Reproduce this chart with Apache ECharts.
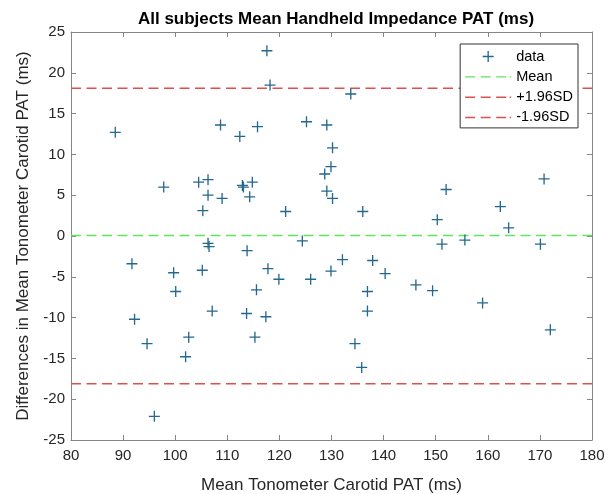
<!DOCTYPE html>
<html><head><meta charset="utf-8">
<script src="https://cdn.jsdelivr.net/npm/echarts@6/dist/echarts.min.js"></script>
<style>html,body{margin:0;padding:0;background:#fff}#c{width:614px;height:494px}</style>
</head><body><div id="c"></div>
<script>
const meanX = [88.5,97.8,104.5,106.3,105.3,106.3,109.0,108.7,112.4,115.8,112.9,113.1,114.8,114.3,117.6,118.2,121.2,125.2,129.1,128.7,129.1,130.2,129.9,130.2,133.7,136.0,150.3,152.0,162.4,164.0,170.8,
  106.3,106.5,91.7,92.2,94.6,96.0,99.7,100.1,102.6,102.0,105.2,107.1,113.8,113.7,115.3,115.6,117.8,117.4,119.9,124.4,126.0,129.9,132.1,137.9,140.3,136.9,136.9,134.5,135.8,146.2,149.4,151.2,155.6,159.0,170.1,172.0];
const diffY = [12.7,6.0,6.6,6.9,3.1,5.0,4.6,13.6,12.2,13.4,6.2,6.0,6.6,4.8,22.7,18.5,3.0,14.0,13.6,7.6,5.5,10.8,8.5,4.6,17.4,3.0,2.0,5.7,3.6,1.0,7.0,
  -0.9,-1.3,-3.4,-10.2,-13.2,-22.1,-4.5,-6.8,-12.4,-14.8,-4.2,-9.2,-1.8,-9.5,-12.4,-6.6,-4.0,-9.9,-5.3,-0.6,-5.3,-4.3,-2.9,-3.0,-4.6,-6.8,-9.2,-13.2,-16.1,-6.0,-6.7,-1.0,-0.5,-8.2,-1.0,-11.5];
const meanDiff = 0.05;
const upperSD = 18.1;
const lowerSD = -18.1;
const xRange = [80, 180];
const yRange = [-25, 25];
const legendNames = ['data','Mean','+1.96SD','-1.96SD'];

const axisColor = '#858585';
const textColor = '#262626';
const font = 'Liberation Sans, Arial, Helvetica, sans-serif';
const plus = 'path://M4.4,0H5.6V4.4H10V5.6H5.6V10H4.4V5.6H0V4.4H4.4Z';
const dashIcon = 'path://M0,0M46,11M0,4.9h10v1.4H0zM15.5,4.9h10v1.4H15.5zM31,4.9h10v1.4H31zM44.5,4.9h1.5v1.4H44.5z';
const green = '#5ee65e', red = '#dc5050', blue = '#24678f';

const chart = echarts.init(document.getElementById('c'), null, {renderer:'canvas'});
function ax(extra){
  return Object.assign({
    type:'value',
    axisLine:{show:true,onZero:false,lineStyle:{color:axisColor,width:1}},
    axisTick:{show:true,inside:true,length:5,lineStyle:{color:axisColor}},
    splitLine:{show:false},
    axisLabel:{color:textColor,fontSize:15,fontFamily:font},
  }, extra);
}
chart.setOption({
  animation:false,
  title:{text:'All subjects Mean Handheld Impedance PAT (ms)',left:331,textAlign:'center',top:6,
    textStyle:{fontSize:17,fontWeight:'bold',color:'#000',fontFamily:font}},
  grid:{left:71,right:22,top:32,bottom:54,outerBoundsMode:'none',containLabel:false},
  legend:{
    orient:'vertical',right:36,top:44,
    backgroundColor:'#fff',borderColor:'#333',borderWidth:1,borderRadius:0,padding:[5,5,3,5],
    itemWidth:46,itemHeight:11,itemGap:5.3,
    textStyle:{fontSize:14.5,color:'#000',fontFamily:font},
    data:[
      {name:legendNames[0]},
      {name:legendNames[1],icon:dashIcon},
      {name:legendNames[2],icon:dashIcon},
      {name:legendNames[3],icon:dashIcon}
    ]
  },
  xAxis:[
    ax({min:xRange[0],max:xRange[1],interval:10,position:'bottom',
      name:'Mean Tonometer Carotid PAT (ms)',nameLocation:'middle',nameGap:37,
      nameTextStyle:{fontSize:17,color:textColor,fontFamily:font},
      axisLabel:{color:textColor,fontSize:15,fontFamily:font,margin:8}}),
    ax({min:xRange[0],max:xRange[1],interval:10,position:'top',axisLabel:{show:false}})
  ],
  yAxis:[
    ax({min:yRange[0],max:yRange[1],interval:5,position:'left',
      name:'Differences in Mean Tonometer Carotid PAT (ms)',nameLocation:'middle',nameGap:39,
      nameTextStyle:{fontSize:17,color:textColor,fontFamily:font},
      axisLabel:{color:textColor,fontSize:15,fontFamily:font,margin:6}}),
    ax({min:yRange[0],max:yRange[1],interval:5,position:'right',axisLabel:{show:false}})
  ],
  series:[
    {name:legendNames[1],type:'line',symbol:'none',data:[[xRange[0],meanDiff],[xRange[1],meanDiff]],
      lineStyle:{color:green,width:1.5,type:[10,5.5]},itemStyle:{color:green},z:1},
    {name:legendNames[2],type:'line',symbol:'none',data:[[xRange[0],upperSD],[xRange[1],upperSD]],
      lineStyle:{color:red,width:1.5,type:[10,5.5]},itemStyle:{color:red},z:1},
    {name:legendNames[3],type:'line',symbol:'none',data:[[xRange[0],lowerSD],[xRange[1],lowerSD]],
      lineStyle:{color:red,width:1.5,type:[10,5.5]},itemStyle:{color:red},z:1},
    {name:legendNames[0],type:'scatter',symbol:plus,symbolSize:11,
      data:meanX.map((x,i)=>[x,diffY[i]]),itemStyle:{color:blue,opacity:1},z:3}
  ]
});
</script></body></html>
